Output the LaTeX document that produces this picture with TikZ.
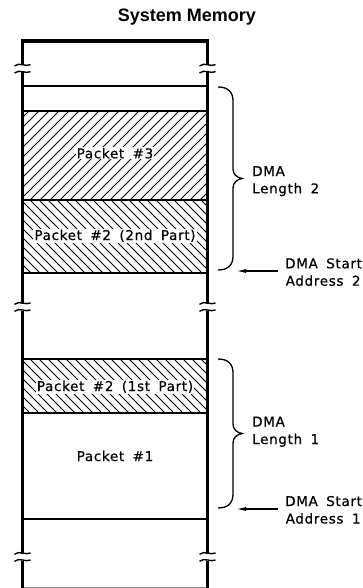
\documentclass[tikz,border=0pt]{standalone}
\usepackage{fontspec}
\usetikzlibrary{arrows.meta}
\newfontfamily\cadfont[LetterSpace=5,WordSpace=1.7,FakeBold=0.6]{DejaVu Sans}
\newfontfamily\titlefont{Liberation Sans}
\newcommand{\wallbreak}[2]{%
  \draw[breakline] (#1-8,#2-3.5+0.8) .. controls (#1-3,#2-3.5-3.5) and (#1+3,#2-3.5+2) .. (#1+8,#2-3.5-0.5);
  \draw[breakline] (#1-8,#2+3.5+0.8) .. controls (#1-3,#2+3.5-3.5) and (#1+3,#2+3.5+2) .. (#1+8,#2+3.5-0.5);
}
\begin{document}
\begin{tikzpicture}[x=1pt,y=-1pt,
  wall/.style={line width=3pt},
  hline/.style={line width=2.3pt},
  breakline/.style={line width=1.4pt},
  hatchline/.style={line width=0.9pt},
  bracestyle/.style={line width=1.3pt},
  arrowstyle/.style={line width=1.3pt,-{Latex[length=10pt,width=4pt]}},
  pktlabel/.style={font=\cadfont\fontsize{13.5}{15}\selectfont,anchor=base,fill=white,inner sep=1pt},
  sidelabel/.style={font=\cadfont\fontsize{13.5}{15}\selectfont,anchor=base west,inner sep=0pt},
]
\useasboundingbox (0,0) rectangle (362,588);

% title
\node[font=\titlefont\bfseries\fontsize{18}{20}\selectfont,anchor=base,inner sep=0pt] (title) at (187,21.7) {System Memory};

% hatched regions
\begin{scope}
  \clip (22,111) rectangle (208,200);
  \foreach \c in {-100,-90,...,220}{
    \draw[hatchline] (\c,210) -- (\c+110,100);
  }
\end{scope}
\begin{scope}
  \clip (22,200) rectangle (208,273);
  \foreach \c in {-70,-61,...,220}{
    \draw[hatchline] (\c,190) -- (\c+90,280);
  }
\end{scope}
\begin{scope}
  \clip (22,359) rectangle (208,413);
  \foreach \c in {-60,-51,...,220}{
    \draw[hatchline] (\c,350) -- (\c+70,420);
  }
\end{scope}

% horizontal lines
\draw[line width=3.2pt] (21,41) -- (209,41);
\draw[line width=2.2pt] (22,86) -- (208,86);
\draw[hline] (22,111) -- (208,111);
\draw[line width=2pt] (22,200) -- (208,200);
\draw[hline] (22,273) -- (208,273);
\draw[hline] (22,359) -- (208,359);
\draw[hline] (22,413) -- (208,413);
\draw[line width=2pt] (22,519) -- (208,519);
\draw[line width=1pt,gray] (22,587.5) -- (208,587.5);

% walls with breaks
\foreach \x in {22.5,207.5}{
  \draw[wall] (\x,39.5) -- (\x,65.2);
  \draw[wall] (\x,72.2) -- (\x,303.5);
  \draw[wall] (\x,310.5) -- (\x,553.5);
  \draw[wall] (\x,560.5) -- (\x,588);
  \wallbreak{\x}{68.7}
  \wallbreak{\x}{307}
  \wallbreak{\x}{557}
}

% packet labels
\node[pktlabel] (p3) at (115,158.3) {Packet \#3};
\node[pktlabel] (p22) at (115,240) {Packet \#2 (2nd Part)};
\node[pktlabel] (p21) at (115,391) {Packet \#2 (1st Part)};
\node[pktlabel,fill=none] (p1) at (115,461) {Packet \#1};

% braces
\coordinate (b2top) at (218,87);
\coordinate (b2tip) at (242,178.5);
\coordinate (b2bot) at (218,270);
\draw[bracestyle] (b2top) .. controls (228,87) and (233,92) .. (233,101)
  -- (233,169) .. controls (233,174.5) and (237,177.5) .. (b2tip)
  .. controls (237,179.5) and (233,182.5) .. (233,188)
  -- (233,256) .. controls (233,265) and (228,270) .. (b2bot);

\coordinate (b1top) at (218,359);
\coordinate (b1tip) at (242,433.5);
\coordinate (b1bot) at (218,508);
\draw[bracestyle] (b1top) .. controls (228,359) and (233,364) .. (233,373)
  -- (233,424) .. controls (233,429.5) and (237,432.5) .. (b1tip)
  .. controls (237,434.5) and (233,437.5) .. (233,443)
  -- (233,494) .. controls (233,503) and (228,508) .. (b1bot);

% side labels
\node[sidelabel] (len2a) at (252,176) {DMA};
\node[sidelabel] (len2b) at (252,193.3) {Length 2};
\node[sidelabel] (len1a) at (252,426.5) {DMA};
\node[sidelabel] (len1b) at (252,444) {Length 1};

\node[sidelabel] (st2a) at (285,268.3) {DMA Start};
\node[sidelabel] (st2b) at (285.5,285.7) {Address 2};
\node[sidelabel] (st1a) at (285,506) {DMA Start};
\node[sidelabel] (st1b) at (285.5,523.5) {Address 1};

% arrows
\coordinate (a2from) at (278,271);
\coordinate (a2to) at (236,271);
\coordinate (a1from) at (278,509);
\coordinate (a1to) at (236,509);
\draw[arrowstyle] (a2from) -- (a2to);
\draw[arrowstyle] (a1from) -- (a1to);
\end{tikzpicture}
\end{document}
